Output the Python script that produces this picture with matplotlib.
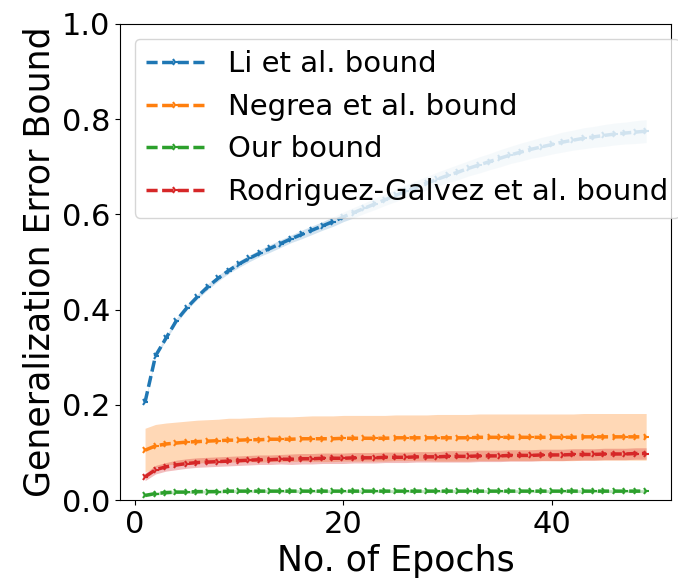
import numpy as np
import matplotlib
matplotlib.use('Agg')
from matplotlib import pyplot as plt

epochs = list(range(1, 50))

# mean bound per epoch
li = [0.206, 0.303, 0.340, 0.377, 0.404, 0.427, 0.448, 0.466, 0.482, 0.496,
      0.508, 0.519, 0.529, 0.539, 0.549, 0.558, 0.567, 0.576, 0.585, 0.595,
      0.604, 0.613, 0.622, 0.631, 0.640, 0.649, 0.657, 0.666, 0.674, 0.682,
      0.689, 0.697, 0.704, 0.711, 0.718, 0.725, 0.731, 0.737, 0.742, 0.747,
      0.752, 0.756, 0.760, 0.763, 0.766, 0.769, 0.771, 0.773, 0.775]
negrea = [0.105, 0.114, 0.118, 0.120, 0.122, 0.123, 0.124, 0.125, 0.126, 0.126,
          0.127, 0.127, 0.128, 0.128, 0.128, 0.129, 0.129, 0.129, 0.129, 0.130,
          0.130, 0.130, 0.130, 0.130, 0.131, 0.131, 0.131, 0.131, 0.131, 0.131,
          0.131, 0.131, 0.132, 0.132, 0.132, 0.132, 0.132, 0.132, 0.132, 0.132,
          0.132, 0.132, 0.133, 0.133, 0.133, 0.133, 0.133, 0.133, 0.133]
ours = [0.010, 0.014, 0.016, 0.017, 0.017, 0.018, 0.018, 0.018, 0.019, 0.019,
        0.019, 0.019, 0.019, 0.019, 0.019, 0.019, 0.019, 0.019, 0.019, 0.019,
        0.019, 0.019, 0.019, 0.019, 0.019, 0.019, 0.019, 0.019, 0.019, 0.019,
        0.019, 0.019, 0.019, 0.019, 0.019, 0.019, 0.019, 0.019, 0.019, 0.019,
        0.019, 0.019, 0.019, 0.019, 0.019, 0.019, 0.019, 0.019, 0.019]
rg = [0.049, 0.064, 0.070, 0.074, 0.077, 0.079, 0.080, 0.081, 0.082, 0.083,
      0.084, 0.085, 0.085, 0.086, 0.086, 0.087, 0.087, 0.088, 0.088, 0.088,
      0.089, 0.089, 0.089, 0.090, 0.090, 0.090, 0.091, 0.091, 0.091, 0.092,
      0.092, 0.092, 0.093, 0.093, 0.093, 0.094, 0.094, 0.094, 0.095, 0.095,
      0.095, 0.096, 0.096, 0.096, 0.097, 0.097, 0.097, 0.098, 0.098]

# std per epoch (half width of the shaded band)
li_std = [0.003, 0.004, 0.004, 0.005, 0.005, 0.005, 0.006, 0.006, 0.006, 0.007,
          0.007, 0.007, 0.008, 0.008, 0.008, 0.009, 0.009, 0.009, 0.010, 0.010,
          0.011, 0.011, 0.012, 0.012, 0.013, 0.013, 0.014, 0.014, 0.015, 0.015,
          0.016, 0.016, 0.017, 0.017, 0.018, 0.018, 0.019, 0.019, 0.020, 0.020,
          0.021, 0.021, 0.022, 0.022, 0.023, 0.023, 0.023, 0.024, 0.024]
negrea_std = [0.046, 0.045, 0.044, 0.044, 0.044, 0.045, 0.045, 0.045, 0.046, 0.046,
              0.046, 0.047, 0.047, 0.047, 0.047, 0.047, 0.048, 0.048, 0.048, 0.048,
              0.048, 0.048, 0.048, 0.048, 0.048, 0.048, 0.048, 0.048, 0.049, 0.049,
              0.049, 0.049, 0.049, 0.049, 0.049, 0.049, 0.049, 0.049, 0.049, 0.049,
              0.049, 0.049, 0.049, 0.049, 0.049, 0.049, 0.049, 0.049, 0.049]
ours_std = [0.003] * 49
rg_std = [0.008, 0.009, 0.009, 0.010, 0.010, 0.010, 0.010, 0.010, 0.010, 0.010,
          0.010, 0.010, 0.010, 0.010, 0.011, 0.011, 0.011, 0.011, 0.011, 0.011,
          0.011, 0.011, 0.011, 0.011, 0.011, 0.011, 0.011, 0.011, 0.011, 0.012,
          0.012, 0.012, 0.012, 0.012, 0.012, 0.012, 0.012, 0.012, 0.012, 0.012,
          0.012, 0.012, 0.012, 0.012, 0.012, 0.012, 0.012, 0.012, 0.012]

labels = ['Li et al. bound', 'Negrea et al. bound', 'Our bound',
          'Rodriguez-Galvez et al. bound']
colors = ['tab:blue', 'tab:orange', 'tab:green', 'tab:red']

fig = plt.figure(figsize=(6.78, 5.85), dpi=100)
ax = fig.add_axes([0.177, 0.145, 0.813, 0.814])

x = np.array(epochs)
series = [(li, li_std, 0.2), (negrea, negrea_std, 0.3),
          (ours, ours_std, 0.3), (rg, rg_std, 0.3)]
for (m, s, a), lab, c in zip(series, labels, colors):
    m = np.array(m)
    s = np.array(s)
    ax.plot(x, m, '--', marker='4', markersize=5, mew=1.5, lw=2.5,
            dashes=(3.2, 1.3), color=c, label=lab)
    ax.fill_between(x, m - s, m + s, color=c, alpha=a, lw=0)

ax.set_ylim(0, 1.0)
ax.set_xticks([0, 20, 40])
ax.tick_params(labelsize=22)
ax.set_xlabel('No. of Epochs', fontsize=25)
ax.set_ylabel('Generalization Error Bound', fontsize=25)
ax.legend(loc='upper left', fontsize=21)

plt.savefig('out.png', dpi=100)
